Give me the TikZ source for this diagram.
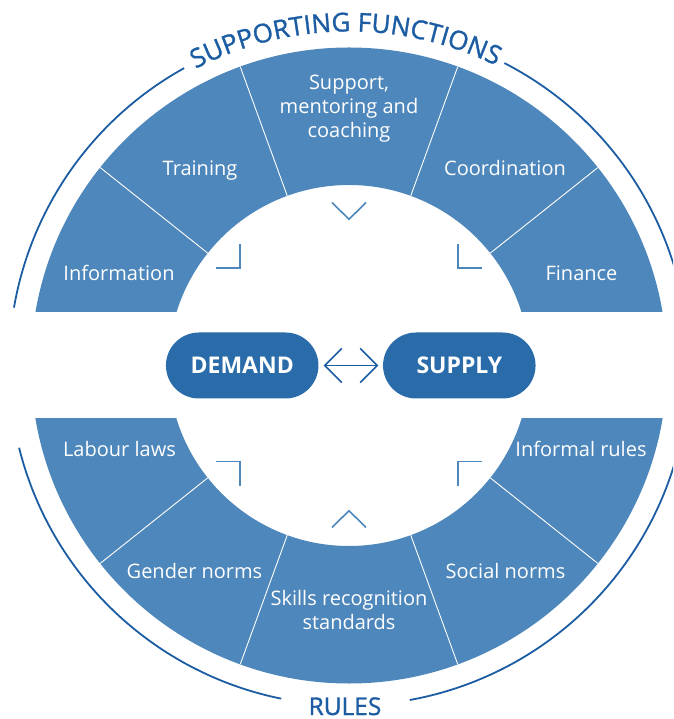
\documentclass[tikz,border=0pt]{standalone}
\usepackage{fontspec}
\setmainfont{Open Sans}
\newfontfamily\titlefont{Open Sans}[FakeBold=1.2]
\usetikzlibrary{arrows.meta,decorations.text}
\definecolor{ringblue}{HTML}{4E87BB}
\definecolor{boxblue}{HTML}{2A6CAA}
\definecolor{darkblue}{HTML}{1B5CA3}
\tikzset{
  lbl/.style={text=white, anchor=base, inner sep=0pt, font=\fontsize{20}{23}\selectfont},
  pill/.style={fill=boxblue, text=white, minimum width=152.5pt, minimum height=66pt,
    rounded corners=33pt, inner sep=0pt, font=\fontsize{23}{26}\selectfont\bfseries},
  divider/.style={white, line width=0.9pt},
  outline/.style={darkblue, line width=1.8pt},
  pointer/.style={ringblue, line width=1.6pt},
  link/.style={darkblue, line width=1.6pt, {Straight Barb[length=17pt,width=34pt]}-{Straight Barb[length=17pt,width=34pt]}}
}
\begin{document}
\begin{tikzpicture}[x=1pt,y=1pt]
\useasboundingbox (-349,-353.5) rectangle (324,365.5);
\clip (-349,-353.5) rectangle (324,365.5);
% ring halves
\begin{scope}
  \clip (-360,53.5) rectangle (360,360);
  \fill[ringblue, even odd rule] (0,0) circle[radius=318] (0,0) circle[radius=180.5];
\end{scope}
\begin{scope}
  \clip (-360,-53.5) rectangle (360,-360);
  \fill[ringblue, even odd rule] (0,0) circle[radius=318] (0,0) circle[radius=180.5];
\end{scope}
% dividers
\foreach \a in {38.5,70,110,141.5,-38.5,-70,-110,-141.5}
  \draw[divider] (\a:180.5) -- (\a:318);
% outer arcs
\draw[outline] (170.2:340) arc[start angle=170.2, end angle=119, radius=340];
\draw[outline] (62.8:340) arc[start angle=62.8, end angle=9.8, radius=340];
\draw[outline] (194:340) arc[start angle=194, end angle=258.5, radius=340];
\draw[outline] (-79.7:340) arc[start angle=-79.7, end angle=-13, radius=340];
% title on arc
\path[decorate, decoration={text along path, text align=center,
  text={|\titlefont\fontsize{26}{26}\selectfont\color{darkblue}|SUPPORTING FUNCTIONS}}]
  (160.6:334) arc[start angle=160.6, end angle=20.6, radius=334];
\node[anchor=base, inner sep=0pt, text depth=0pt, text=darkblue, font=\titlefont\fontsize{24.5}{26}\selectfont] (rules) at (-4,-349.5) {RULES};
% labels
\node[lbl] (information) at (-230,84.5) {Information};
\node[lbl] (finance) at (232.5,84.5) {Finance};
\node[lbl] (training) at (-149,190) {Training};
\node[lbl] (coordination) at (156,190) {Coordination};
\node[lbl] (support1) at (0,275.5) {Support,};
\node[lbl] (support2) at (0,251.5) {mentoring and};
\node[lbl] (support3) at (0,228) {coaching};
\node[lbl] (labour) at (-229.5,-91.5) {Labour laws};
\node[lbl] (informal) at (232,-91.5) {Informal rules};
\node[lbl] (gender) at (-154.5,-212.5) {Gender norms};
\node[lbl] (social) at (156.5,-212.5) {Social norms};
\node[lbl] (skills1) at (0,-239.5) {Skills recognition};
\node[lbl] (skills2) at (0,-264) {standards};
% pointers
\draw[pointer] (-17,163) -- (0,146.2) -- (17,163);
\draw[pointer] (-17,-162) -- (0,-145.2) -- (17,-162);
\draw[pointer] (-109,121.2) -- (-109,97.2) -- (-133,97.2);
\draw[pointer] (109,121.2) -- (109,97.2) -- (133,97.2);
\draw[pointer] (-109,-120.2) -- (-109,-96.2) -- (-133,-96.2);
\draw[pointer] (109,-120.2) -- (109,-96.2) -- (133,-96.2);
% center
\node[pill] (demand) at (-106.8,0) {DEMAND};
\node[pill] (supply) at (110.3,0) {SUPPLY};
\draw[link, shorten <=5pt, shorten >=4.5pt] (demand.east) -- (supply.west);
\end{tikzpicture}
\end{document}
